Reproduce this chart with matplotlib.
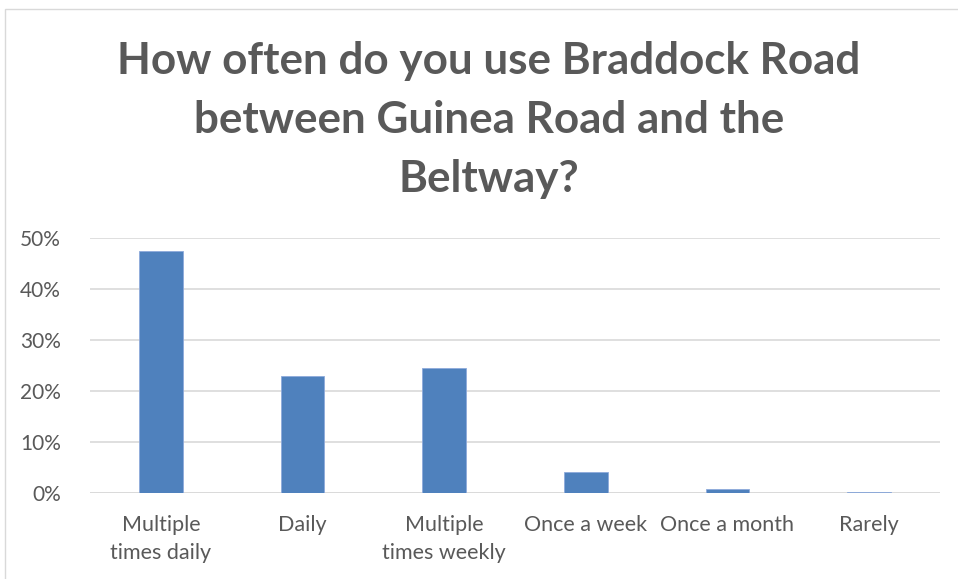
import matplotlib
matplotlib.use("Agg")
import matplotlib.pyplot as plt
from matplotlib.ticker import FuncFormatter
from matplotlib.patches import Rectangle

categories = ["Multiple\ntimes daily", "Daily", "Multiple\ntimes weekly",
              "Once a week", "Once a month", "Rarely"]
values = [47.4, 22.9, 24.6, 4.1, 0.85, 0.25]
yticks = [0, 10, 20, 30, 40, 50]
title = "How often do you use Braddock Road\nbetween Guinea Road and the\nBeltway?"

plt.rcParams['font.family'] = ['Lato', 'DejaVu Sans']
txt = '#595959'

fig = plt.figure(figsize=(9.58, 5.79), dpi=100)
fig.patches.append(Rectangle((4.5/958, -0.1), 1.2, (579-8.5)/579 + 0.1,
                             transform=fig.transFigure, fill=False,
                             edgecolor='#d9d9d9', linewidth=1))
ax = fig.add_axes([90/958, (579-493)/579, 850/958, (493-238)/579 * 1.0])
x = list(range(len(categories)))
ax.bar(x, values, width=0.31, color='#4f81bd', edgecolor='#8eaadb', linewidth=0.6, zorder=3)
ax.set_xlim(-0.5, len(categories) - 0.5)
ax.set_ylim(0, 50)
ax.set_yticks(yticks)
ax.yaxis.set_major_formatter(FuncFormatter(lambda v, p: f"{int(v)}%"))
ax.grid(axis='y', color='#d9d9d9', linewidth=1.2, zorder=0)
ax.set_xticks(x)
ax.set_xticklabels(categories, fontsize=15.5, color=txt, linespacing=1.5)
ax.tick_params(axis='y', labelsize=15, labelcolor=txt, length=0, pad=21)
ax.tick_params(axis='x', length=0, pad=16)
for s in ax.spines.values():
    s.set_visible(False)
ax.axhline(0, color='#d9d9d9', linewidth=1.2, zorder=2)

fig.text(489/958, 1 - 120/579, title, ha='center', va='center', fontsize=31.7,
         fontweight='bold', color=txt, linespacing=1.58)

fig.savefig("out.png", dpi=100)
